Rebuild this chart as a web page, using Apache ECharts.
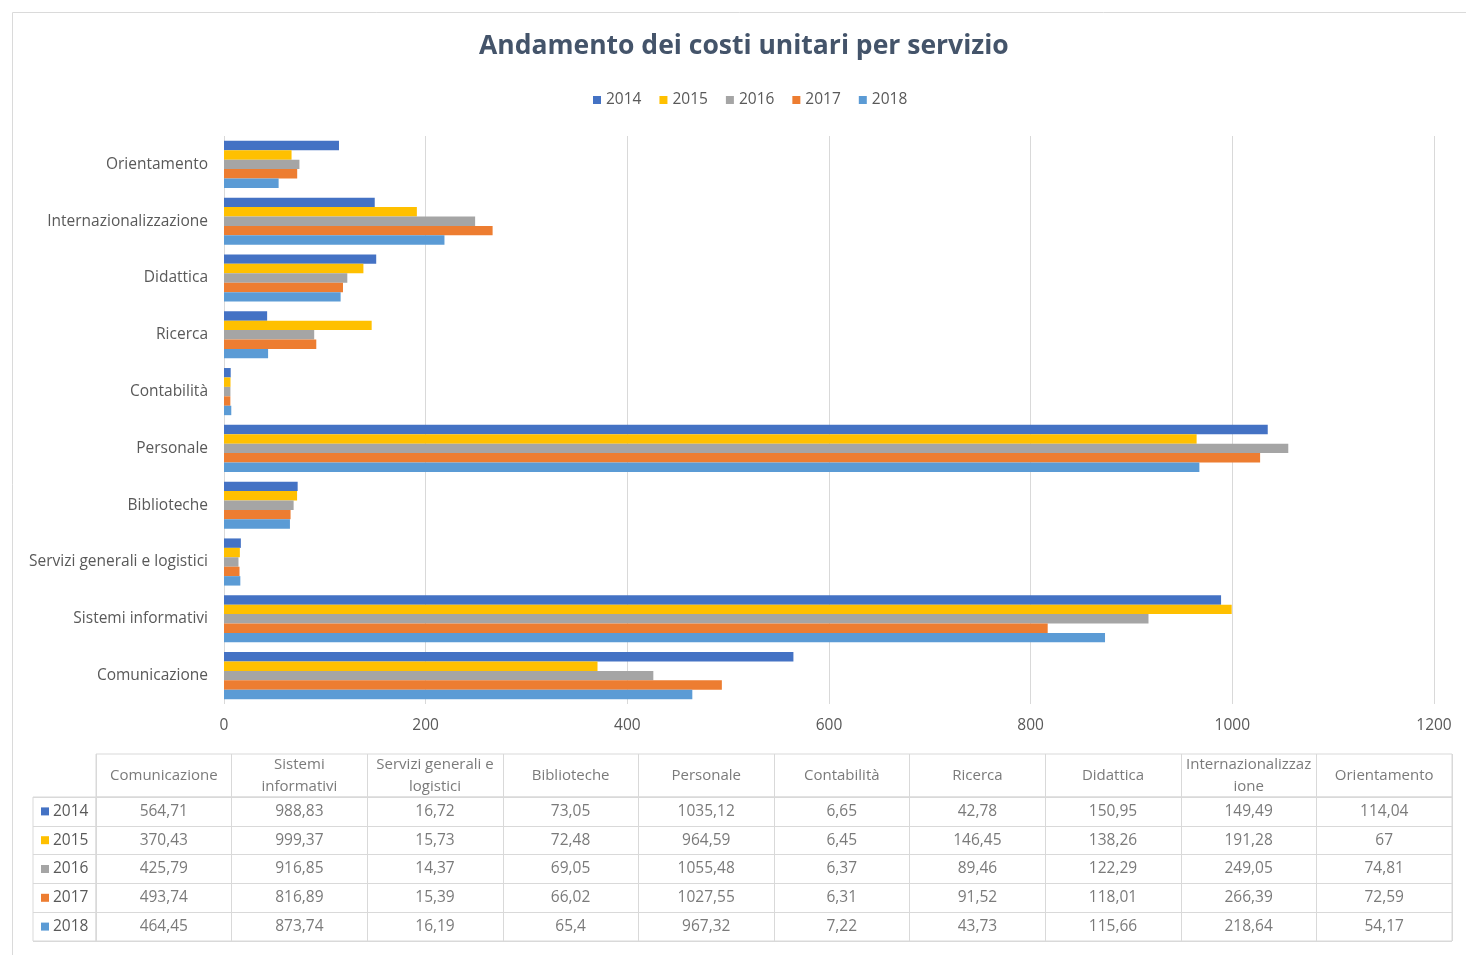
<!DOCTYPE html>
<html>
<head>
<meta charset="utf-8">
<script src="https://cdn.jsdelivr.net/npm/echarts@6/dist/echarts.min.js"></script>
<style>
  html, body { margin: 0; padding: 0; background: #fff; }
  #chart { width: 1466px; height: 955px; }
</style>
</head>
<body>
<div id="chart"></div>
<script>
// Services, in table column order (first = bottom of the bar chart)
const categories = ['Comunicazione', 'Sistemi informativi', 'Servizi generali e logistici', 'Biblioteche',
  'Personale', 'Contabilità', 'Ricerca', 'Didattica', 'Internazionalizzazione', 'Orientamento'];
// Table header labels as wrapped in the data table
const headerLabels = ['Comunicazione', 'Sistemi\ninformativi', 'Servizi generali e\nlogistici', 'Biblioteche',
  'Personale', 'Contabilità', 'Ricerca', 'Didattica', 'Internazionalizzaz\nione', 'Orientamento'];
const years = ['2014', '2015', '2016', '2017', '2018'];
const xTicks = [0, 200, 400, 600, 800, 1000, 1200];

const v2014 = [564.71, 988.83, 16.72, 73.05, 1035.12, 6.65, 42.78, 150.95, 149.49, 114.04];
const v2015 = [370.43, 999.37, 15.73, 72.48, 964.59, 6.45, 146.45, 138.26, 191.28, 67];
const v2016 = [425.79, 916.85, 14.37, 69.05, 1055.48, 6.37, 89.46, 122.29, 249.05, 74.81];
const v2017 = [493.74, 816.89, 15.39, 66.02, 1027.55, 6.31, 91.52, 118.01, 266.39, 72.59];
const v2018 = [464.45, 873.74, 16.19, 65.4, 967.32, 7.22, 43.73, 115.66, 218.64, 54.17];

const colors = ['#4472C4', '#FFC000', '#A5A5A5', '#ED7D31', '#5B9BD5'];

const seriesValues = [v2014, v2015, v2016, v2017, v2018];
const FONT = 'Open Sans';
const TXT = '#595959';
const LINE = '#D9D9D9';

const fmt = v => String(v).replace('.', ',');

// bar series (grid 0)
const barSeries = years.map((y, i) => ({
  name: y,
  type: 'bar',
  xAxisIndex: 0,
  yAxisIndex: 0,
  barGap: '0%',
  barCategoryGap: '17%',
  itemStyle: { color: colors[i] },
  data: seriesValues[i]
}));

// data-table cell labels (grid 2)
const cellData = [];
years.forEach((y, r) => {
  categories.forEach((c, k) => {
    cellData.push([k, r, seriesValues[r][k]]);
  });
});
const headerData = categories.map((c, k) => [k, 0]);

const chart = echarts.init(document.getElementById('chart'), null, { renderer: 'canvas' });

const rich = {};
years.forEach((y, i) => {
  rich['k' + i] = { width: 8, height: 8, backgroundColor: colors[i] };
});
rich.y = { fontFamily: FONT, fontSize: 15.5, color: TXT, padding: [0, 0, 0, 4] };

chart.setOption({
  animation: false,
  backgroundColor: '#fff',
  textStyle: { fontFamily: FONT },
  title: {
    text: 'Andamento dei costi unitari per servizio',
    left: 474,
    top: 28,
    textStyle: { fontFamily: FONT, fontSize: 26.5, fontWeight: 'bold', color: '#44546A' }
  },
  legend: {
    data: years,
    top: 87,
    left: 588,
    itemWidth: 8,
    itemHeight: 8,
    itemGap: 18,
    icon: 'rect',
    textStyle: { fontFamily: FONT, fontSize: 15.5, color: TXT, padding: [0, 0, 0, 0] }
  },
  graphic: [{
    type: 'rect',
    shape: { x: 12.5, y: 12.5, width: 1480, height: 980 },
    style: { fill: 'none', stroke: '#DADADA', lineWidth: 1 },
    silent: true
  }],
  grid: [
    { left: 224, right: 32, top: 136, bottom: 251 },
    { left: 96, right: 14, top: 754, height: 43, show: true, borderColor: LINE, borderWidth: 1 },
    { left: 96, right: 14, top: 797, bottom: 14, show: true, borderColor: LINE, borderWidth: 1 },
    { left: 33, width: 63, top: 797, bottom: 14, show: true, borderColor: LINE, borderWidth: 1 }
  ],
  xAxis: [
    {
      gridIndex: 0, type: 'value', min: xTicks[0], max: xTicks[xTicks.length - 1], interval: 200,
      axisLine: { show: false }, axisTick: { show: false },
      axisLabel: { fontFamily: FONT, fontSize: 15.5, color: TXT, margin: 14, formatter: v => String(v) },
      splitLine: { show: true, lineStyle: { color: LINE, width: 1 } }
    },
    {
      gridIndex: 1, type: 'category', data: categories,
      axisLine: { show: false }, axisTick: { show: false }, axisLabel: { show: false, interval: 0 },
      splitLine: { show: true, interval: 0, lineStyle: { color: LINE } }
    },
    {
      gridIndex: 2, type: 'category', data: categories,
      axisLine: { show: false }, axisTick: { show: false }, axisLabel: { show: false, interval: 0 },
      splitLine: { show: true, interval: 0, lineStyle: { color: LINE } }
    },
    {
      gridIndex: 3, type: 'value', min: 0, max: 1, show: false
    }
  ],
  yAxis: [
    {
      gridIndex: 0, type: 'category', data: categories,
      axisLine: { show: false }, axisTick: { show: false },
      axisLabel: { fontFamily: FONT, fontSize: 15.5, color: TXT, margin: 16, interval: 0 },
      splitLine: { show: false }
    },
    {
      gridIndex: 1, type: 'category', data: ['h'], show: false
    },
    {
      gridIndex: 2, type: 'category', data: years, inverse: true,
      axisLine: { show: false }, axisTick: { show: false },
      axisLabel: {
        margin: 55, align: 'left', interval: 0,
        formatter: (val, idx) => '{k' + idx + '|}{y|' + val + '}',
        rich: rich
      },
      splitLine: { show: true, interval: 0, lineStyle: { color: LINE } }
    },
    {
      gridIndex: 3, type: 'category', data: years, inverse: true,
      axisLine: { show: false }, axisTick: { show: false }, axisLabel: { show: false, interval: 0 },
      splitLine: { show: true, interval: 0, lineStyle: { color: LINE } }
    }
  ],
  series: barSeries.concat([
    {
      type: 'scatter',
      xAxisIndex: 1, yAxisIndex: 1,
      symbolSize: 1,
      itemStyle: { color: 'rgba(0,0,0,0)' },
      silent: true,
      data: headerData,
      label: {
        show: true, position: 'inside',
        formatter: p => headerLabels[p.value[0]],
        fontFamily: FONT, fontSize: 15, lineHeight: 22, color: TXT, align: 'center'
      }
    },
    {
      type: 'scatter',
      xAxisIndex: 2, yAxisIndex: 2,
      symbolSize: 1,
      itemStyle: { color: 'rgba(0,0,0,0)' },
      silent: true,
      data: cellData,
      label: {
        show: true, position: 'inside',
        formatter: p => fmt(p.value[2]),
        fontFamily: FONT, fontSize: 15.5, color: TXT
      }
    }
  ])
});
</script>
</body>
</html>
